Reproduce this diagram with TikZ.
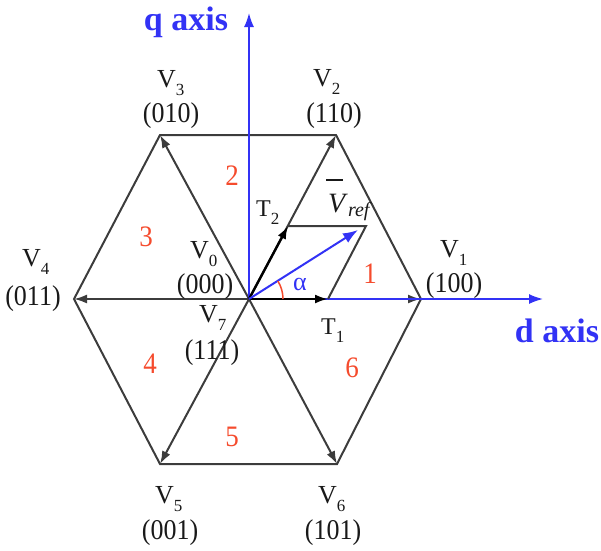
\documentclass[tikz,border=0pt]{standalone}
\usepackage{fontspec}
\setmainfont{Liberation Serif}
\usetikzlibrary{arrows.meta}
\definecolor{axisblue}{RGB}{50,50,245}
\definecolor{secred}{RGB}{245,75,45}
\definecolor{edgegray}{RGB}{60,60,60}
\newcommand\lbsub[2]{#1\raisebox{-8.5pt}{\fontsize{17}{17}\selectfont #2}}
\newcommand\tsub[2]{#1\raisebox{-8.5pt}{\fontsize{17}{17}\selectfont #2}}
\newcommand\tallt[1]{\scalebox{1}[1.1]{#1}}
\begin{document}
\begin{tikzpicture}[x=1pt,y=-1pt,
  edge/.style={draw=edgegray,line width=2pt,line join=miter},
  vec/.style={draw=edgegray,line width=2pt,-{Latex[length=13pt,width=9pt]}},
  tvec/.style={draw=black,line width=2.4pt,-{Latex[length=13pt,width=9pt]}},
  ax/.style={draw=axisblue,line width=1.6pt,-{Latex[length=14pt,width=10pt]}},
  rvec/.style={draw=axisblue,line width=2pt,-{Latex[length=15pt,width=11pt]}},
  vl/.style={anchor=base west,font=\fontsize{26}{26}\selectfont,text=black!90,inner sep=0pt},
  tl/.style={anchor=base west,font=\fontsize{24}{24}\selectfont,text=black!90,inner sep=0pt},
  cl/.style={font=\fontsize{26}{26}\selectfont,text=black!90,inner sep=0pt},
  sec/.style={font=\fontsize{27}{27}\selectfont,text=secred,inner sep=0pt},
  axl/.style={font=\fontsize{34}{34}\selectfont\bfseries,text=axisblue,inner sep=0pt}]
\useasboundingbox (0,0) rectangle (601,550);
% vertices
\coordinate (O) at (249,299);
\coordinate (P1) at (421,299);
\coordinate (P2) at (336,135);
\coordinate (P3) at (160,135);
\coordinate (P4) at (74,299);
\coordinate (P5) at (160,464);
\coordinate (P6) at (337,464);
\coordinate (T1e) at (328,299);
\coordinate (T2e) at (288,226);
\coordinate (Vc) at (366,226);
\coordinate (Vtip) at (358,230);
\coordinate (dEnd) at (543,299);
\coordinate (qEnd) at (249,13);
% hexagon
\draw[edge] (P1)--(P2)--(P3)--(P4)--(P5)--(P6)--cycle;
% space vectors
\draw[vec] (O)--(P1);
\draw[vec] (O)--(P2);
\draw[vec] (O)--(P3);
\draw[vec] (O)--(P4);
\draw[vec] (O)--(P5);
\draw[vec] (O)--(P6);
% axes
\draw[ax] (O)--(dEnd);
\draw[ax] (O)--(qEnd);
% construction
\draw[edgegray,line width=2pt] (T2e)--(Vc)--(T1e);
\draw[tvec] (O)--(T1e);
\draw[tvec] (O)--(T2e);
\draw[rvec] (O)--(Vtip);
\draw[secred,line width=1.5pt] (O) ++(34,0) arc[start angle=0,end angle=-32,radius=34];
% axis labels
\node[axl] (qlab) at (186,22) {q axis};
\node[axl] (dlab) at (557,331) {d axis};
% vertex labels
\node[vl] (v3) at (157,87) {\lbsub{V}{3}};
\node[cl] (c3) at (171,116) {\tallt{(010)}};
\node[vl] (v2) at (313,86) {\lbsub{V}{2}};
\node[cl] (c2) at (334,116) {\tallt{(110)}};
\node[vl] (v4) at (22,266) {\lbsub{V}{4}};
\node[cl] (c4) at (33,299) {\tallt{(011)}};
\node[vl] (v1) at (440,257) {\lbsub{V}{1}};
\node[cl] (c1) at (454,286) {\tallt{(100)}};
\node[vl] (v0) at (190,258) {\lbsub{V}{0}};
\node[cl] (c0) at (205,287) {\tallt{(000)}};
\node[vl] (v7) at (199,322) {\lbsub{V}{7}};
\node[cl] (c7) at (212,353) {\tallt{(111)}};
\node[vl] (v5) at (155,503) {\lbsub{V}{5}};
\node[cl] (c5) at (170,533) {\tallt{(001)}};
\node[vl] (v6) at (318,503) {\lbsub{V}{6}};
\node[cl] (c6) at (333,533) {\tallt{(101)}};
\node[tl] (t1) at (321,334) {\tsub{T}{1}};
\node[tl] (t2) at (256,216) {\tsub{T}{2}};
\node[anchor=base west,inner sep=0pt,text=black!90] (vref) at (328,212)
  {\fontsize{28}{28}\selectfont\rlap{\hspace{-2pt}\raisebox{31pt}{\rule{17pt}{2pt}}}\textit{V}\raisebox{-4pt}{\fontsize{20}{20}\selectfont\textit{ref}}};
\node[font=\fontsize{26}{26}\selectfont,text=axisblue,inner sep=0pt] (alpha) at (300,284) {α};
% sector numbers
\node[sec] (s1) at (370,274) {\tallt{1}};
\node[sec] (s2) at (232,176) {\tallt{2}};
\node[sec] (s3) at (146,237) {\tallt{3}};
\node[sec] (s4) at (150,364) {\tallt{4}};
\node[sec] (s5) at (232,437) {\tallt{5}};
\node[sec] (s6) at (352,368) {\tallt{6}};
\end{tikzpicture}
\end{document}
